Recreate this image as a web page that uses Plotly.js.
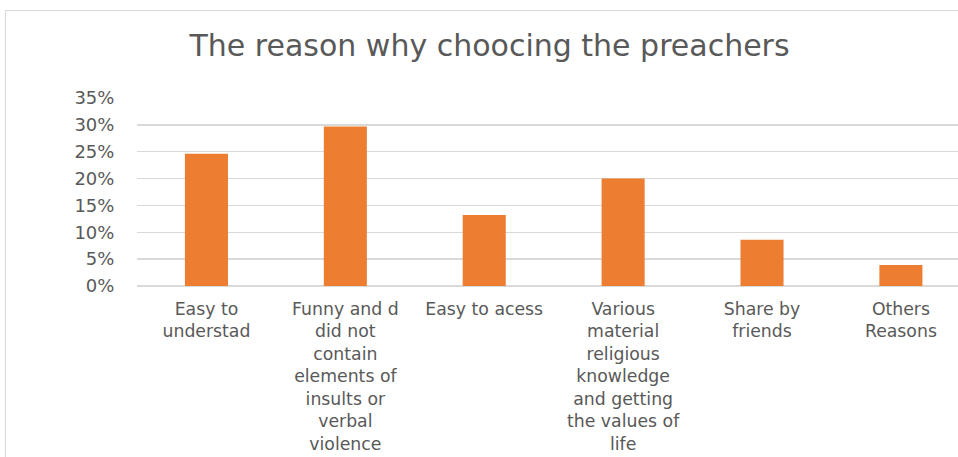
<!DOCTYPE html>
<html>
<head>
<meta charset="utf-8">
<script src="https://cdn.plot.ly/plotly-3.0.1.min.js"></script>
<style>
  html, body { margin: 0; padding: 0; background: #ffffff; }
  #wrap { position: relative; width: 958px; height: 457px; overflow: hidden; }
  #chart { position: absolute; left: 0; top: 0; width: 958px; height: 457px; }
  #frame { position: absolute; left: 5px; top: 10px; width: 1000px; height: 500px;
           border: 1.5px solid #d9d9d9; pointer-events: none; box-sizing: border-box; }
</style>
</head>
<body>
<div id="wrap">
  <div id="chart"></div>
  <div id="frame"></div>
</div>
<script>
const categories = [
  "Easy to<br>understad",
  "Funny and d<br>did not<br>contain<br>elements of<br>insults or<br>verbal<br>violence",
  "Easy to acess",
  "Various<br>material<br>religious<br>knowledge<br>and getting<br>the values of<br>life",
  "Share by<br>friends",
  "Others<br>Reasons"
];
const values = [0.246, 0.297, 0.132, 0.200, 0.086, 0.039];
const yTickVals = [0, 0.05, 0.10, 0.15, 0.20, 0.25, 0.30, 0.35];
const yTickText = ["0%", "5%", "10%", "15%", "20%", "25%", "30%", "35%"];
const titleText = "The reason why choocing the preachers";

const xIdx = categories.map((_, i) => i);
const FONT = "'DejaVu Sans', 'Open Sans', sans-serif";

const trace = {
  type: "bar",
  x: xIdx,
  y: values,
  width: 0.31,
  marker: { color: "#ED7D31" },
  hoverinfo: "skip"
};

const layout = {
  width: 958,
  height: 457,
  margin: { l: 137, r: 0, t: 98, b: 171, pad: 0 },
  paper_bgcolor: "#ffffff",
  plot_bgcolor: "#ffffff",
  showlegend: false,
  font: { family: FONT, color: "#595959", size: 18 },
  title: {
    text: titleText,
    font: { family: FONT, size: 30, color: "#595959" },
    x: 0.511, xref: "container", xanchor: "center",
    y: 1 - 45 / 457, yref: "container", yanchor: "middle"
  },
  xaxis: {
    range: [-0.5, 5.411],
    tickmode: "array",
    tickvals: xIdx,
    ticktext: categories,
    tickangle: 0,
    ticks: "outside",
    ticklen: 7,
    tickcolor: "rgba(0,0,0,0)",
    showgrid: false,
    zeroline: false,
    showline: false,
    tickfont: { family: FONT, size: 17.3, color: "#595959" },
    fixedrange: true
  },
  yaxis: {
    range: [0, 0.35],
    tickmode: "array",
    tickvals: yTickVals,
    ticktext: yTickText,
    ticks: "outside",
    ticklen: 18,
    tickcolor: "rgba(0,0,0,0)",
    showgrid: true,
    gridcolor: "#d9d9d9",
    gridwidth: 1.5,
    zeroline: true,
    zerolinecolor: "#d9d9d9",
    zerolinewidth: 1.5,
    showline: false,
    tickfont: { family: FONT, size: 18, color: "#595959" },
    fixedrange: true
  },
  bargap: 0.69
};

Plotly.newPlot("chart", [trace], layout, { displayModeBar: false, staticPlot: true });
</script>
</body>
</html>
